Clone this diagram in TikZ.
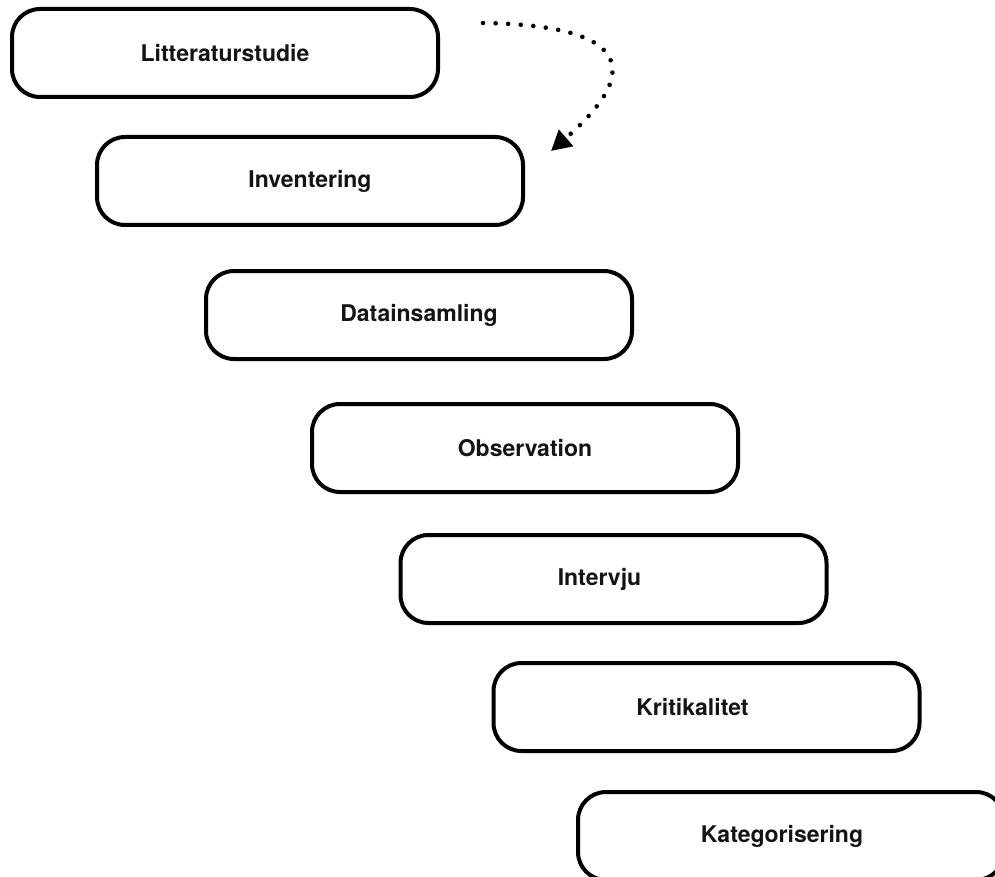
\documentclass[tikz,border=0pt]{standalone}
\usepackage{fontspec}
\setmainfont{TeX Gyre Heros}
\usetikzlibrary{arrows.meta}
\begin{document}
\begin{tikzpicture}[x=1pt,y=-1pt,
  stepbox/.style={draw=black,line width=4pt,rounded corners=28pt,fill=white,
    minimum width=426pt,minimum height=88pt,inner sep=0pt,
    font=\fontsize{23}{27}\selectfont\bfseries,text=black!92},
  dotarrow/.style={line width=4.6pt,line cap=round,dash pattern=on 0pt off 12.6pt,
    -{Triangle[length=20pt,width=21pt]}}]
\clip (0,0) rectangle (995,877);
\fill[white] (0,0) rectangle (995,877);
\node[stepbox] (n1) at (225,53) {Litteraturstudie};
\node[stepbox] (n2) at (310,181) {Inventering};
\node[stepbox] (n3) at (419,315) {Datainsamling};
\node[stepbox] (n4) at (525,448) {Observation};
\node[stepbox] (n5) at (613.5,579) {\hspace*{-28pt}Intervju};
\node[stepbox] (n6) at (706.5,707) {\hspace*{-28pt}Kritikalitet};
\node[stepbox] (n7) at (791,836) {\hspace*{-18pt}Kategorisering};
\coordinate (a0) at (483,23);
\coordinate (a1) at (551,151);
\draw[dotarrow] (a0) .. controls (620,25) and (650,65) .. (a1);
\end{tikzpicture}
\end{document}
